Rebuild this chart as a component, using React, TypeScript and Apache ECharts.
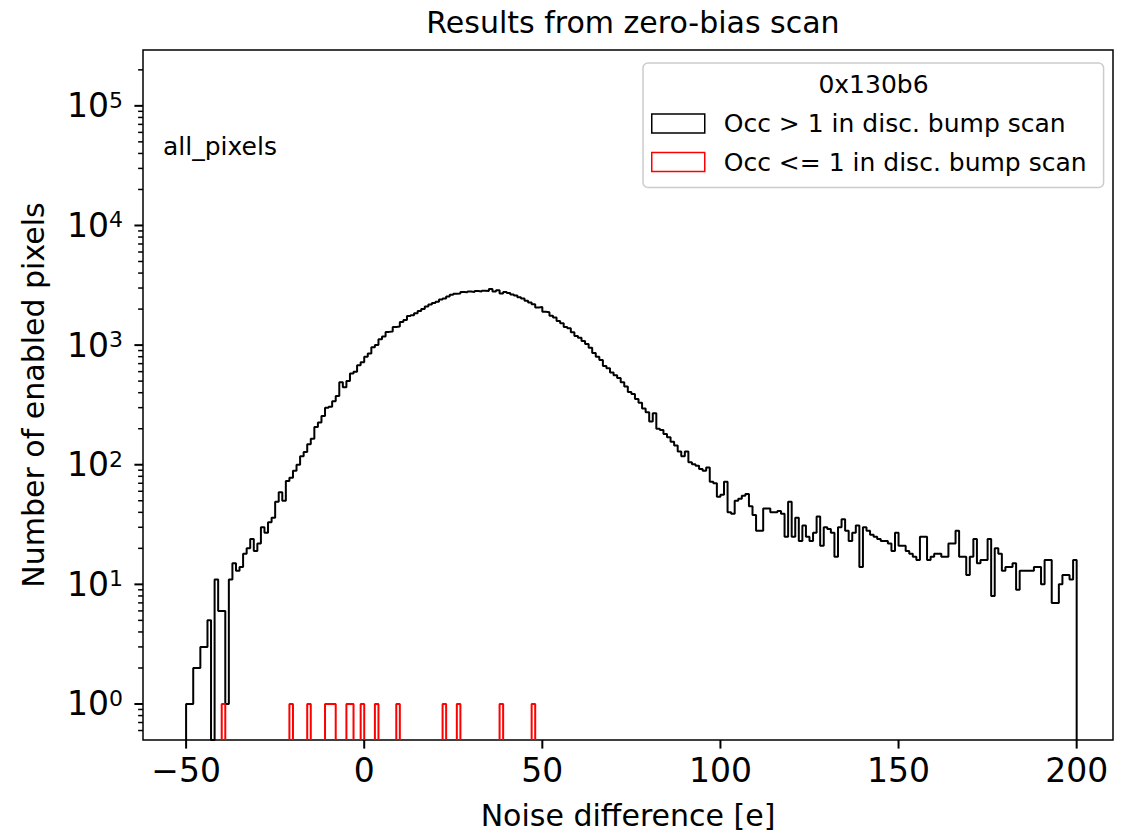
import React, { useEffect, useRef } from "react";
import * as echarts from "echarts";

// ---------- data ----------
const binStart = -50;
const binWidth = 1;
// counts per bin, bins [-50,-49), [-49,-48), ... [199,200)
const occGt1Counts = [
  1, 1, 2, 2, 3, 3, 5, 0, 11, 6,
  6, 1, 11, 15, 13, 14, 18, 20, 24, 19,
  22, 30, 27, 33, 36, 49, 59, 50, 73, 78,
  89, 100, 118, 128, 148, 165, 207, 225, 255, 300,
  305, 340, 375, 490, 445, 500, 580, 600, 680, 720,
  800, 850, 960, 1000, 1120, 1180, 1290, 1300, 1420, 1430,
  1560, 1620, 1750, 1780, 1850, 1930, 2000, 2100, 2180, 2250,
  2300, 2410, 2450, 2550, 2640, 2690, 2700, 2780, 2760, 2800,
  2780, 2830, 2800, 2850, 2830, 2940, 2800, 2880, 2700, 2780,
  2730, 2650, 2600, 2510, 2450, 2350, 2270, 2200, 2060, 2080,
  1900, 1880, 1760, 1700, 1590, 1520, 1420, 1380, 1280, 1190,
  1150, 1080, 1020, 950, 860, 800, 750, 670, 640, 590,
  560, 530, 490, 450, 405, 390, 355, 330, 295, 275,
  230, 270, 200, 195, 181, 170, 156, 145, 129, 118,
  129, 105, 101, 98, 92, 89, 95, 72, 70, 54,
  56, 72, 40, 39, 50, 52, 55, 57, 45, 38,
  28, 28, 43, 43, 40, 40, 41, 39, 25, 49,
  25, 36, 23, 31, 25, 23, 27, 37, 21, 30,
  29, 27, 17, 30, 35, 28, 23, 27, 31, 14,
  30, 28, 26, 25, 24, 23, 23, 22, 19, 27,
  21, 21, 19, 18, 17, 16, 25, 25, 16, 17,
  18, 18, 17, 17, 22, 22, 28, 17, 17, 12,
  17, 24, 15, 16, 16, 24, 8, 20, 18, 13,
  14, 14, 15, 9, 13, 13, 13, 13, 14, 14,
  10, 16, 16, 7, 7, 10, 12, 12, 11, 16,
];
// left edges of bins holding one pixel with Occ <= 1
const occLe1BinLefts = [-40, -21, -16, -11, -10, -9, -5, -4, -1, 3, 9, 22, 26, 38, 47];

const xTicks = [-50, 0, 50, 100, 150, 200];
const yTicks = [1, 10, 100, 1000, 10000, 100000];
const yMinorTicks = [
  0.6, 0.7, 0.8, 0.9,
  2, 3, 4, 5, 6, 7, 8, 9,
  20, 30, 40, 50, 60, 70, 80, 90,
  200, 300, 400, 500, 600, 700, 800, 900,
  2000, 3000, 4000, 5000, 6000, 7000, 8000, 9000,
  20000, 30000, 40000, 50000, 60000, 70000, 80000, 90000,
  200000,
];

const seriesNames = ["Occ > 1 in disc. bump scan", "Occ <= 1 in disc. bump scan"];
const legendTitle = "0x130b6";
const chartTitle = "Results from zero-bias scan";
const xName = "Noise difference [e]";
const yName = "Number of enabled pixels";
const annotation = "all_pixels";

const xMin = -62.1;
const xMax = 210.2;
const yMin = 0.5;
const yMax = 2.93e5;

const FONT = "DejaVu Sans";

const MAJOR_LEN = 8.6;
const MINOR_LEN = 4.9;

// step outline of runs of non-empty bins; empty bins fall to the axis bottom
function stepRuns(counts: number[], joinRuns: boolean) {
  const pts: any[] = [];
  const n = counts.length;
  let k = 0;
  while (k < n) {
    if (counts[k] <= 0 && !joinRuns) {
      k++;
      continue;
    }
    let end = k;
    if (joinRuns) end = n - 1;
    else while (end + 1 < n && counts[end + 1] > 0) end++;
    pts.push([binStart + k * binWidth, yMin]);
    for (let j = k; j <= end; j++) {
      pts.push([binStart + j * binWidth, counts[j] > 0 ? counts[j] : yMin]);
    }
    pts.push([binStart + (end + 1) * binWidth, counts[end] > 0 ? counts[end] : yMin]);
    pts.push([binStart + (end + 1) * binWidth, yMin]);
    pts.push(null);
    k = end + 1;
  }
  return pts;
}

export default function App() {
  const ref = useRef<HTMLDivElement>(null);

  useEffect(() => {
    if (!ref.current) return;
    const chart = echarts.init(ref.current, undefined, { renderer: "svg" });

    const n = occGt1Counts.length;
    const blackPts = stepRuns(occGt1Counts, true);

    const redCounts = new Array(n).fill(0);
    occLe1BinLefts.forEach((l) => {
      const k = Math.round((l - binStart) / binWidth);
      if (k >= 0 && k < n) redCounts[k] += 1;
    });
    const redPts = stepRuns(redCounts, false);

    const axisLine = { show: false, onZero: false };

    const baseGraphics: any[] = [
      {
        type: "text",
        z: 100,
        x: 873.5,
        y: 84,
        style: {
          text: legendTitle,
          fontFamily: FONT,
          fontSize: 25,
          fill: "#000",
          align: "center",
          verticalAlign: "middle",
        },
      },
      {
        type: "text",
        z: 100,
        x: 163,
        y: 146,
        style: {
          text: annotation,
          fontFamily: FONT,
          fontSize: 25,
          fill: "#000",
          verticalAlign: "middle",
        },
      },
    ];

    const option: any = {
      animation: false,
      backgroundColor: "#fff",
      title: {
        text: chartTitle,
        left: 628,
        top: 2,
        textAlign: "center",
        textStyle: { fontFamily: FONT, fontSize: 30, fontWeight: "normal", color: "#000" },
      },
      grid: {
        left: 143,
        right: 21,
        top: 50,
        bottom: 92,
        show: true,
        borderColor: "#000",
        borderWidth: 1.5,
        backgroundColor: "transparent",
      },
      legend: {
        orient: "vertical",
        left: 643,
        top: 63,
        padding: [48, 17, 13, 8],
        itemGap: 13.5,
        itemWidth: 53,
        itemHeight: 19,
        selectedMode: false,
        backgroundColor: "#fff",
        borderColor: "#cccccc",
        borderWidth: 1.5,
        borderRadius: 5,
        textStyle: { fontFamily: FONT, fontSize: 25, color: "#000", padding: [0, 0, 0, 14] },
        data: [
          {
            name: seriesNames[0],
            icon: "rect",
            itemStyle: { color: "rgba(0,0,0,0)", borderColor: "#000", borderWidth: 1.5 },
          },
          {
            name: seriesNames[1],
            icon: "rect",
            itemStyle: { color: "rgba(0,0,0,0)", borderColor: "#ff0000", borderWidth: 1.5 },
          },
        ],
      },
      graphic: baseGraphics,
      xAxis: {
        type: "value",
        min: xMin,
        max: xMax,
        splitLine: { show: false },
        axisLine,
        axisTick: { show: false },
        axisLabel: {
          customValues: xTicks,
          margin: 14,
          fontFamily: FONT,
          fontSize: 33,
          color: "#000",
          formatter: (v: number) => (v < 0 ? "\u2212" + Math.abs(v) : String(v)),
        },
        name: xName,
        nameLocation: "middle",
        nameGap: 60,
        nameTextStyle: { fontFamily: FONT, fontSize: 30, color: "#000" },
      },
      yAxis: {
        type: "log",
        logBase: 10,
        min: yMin,
        max: yMax,
        position: "left",
        splitLine: { show: false },
        minorTick: { show: false },
        axisLine,
        axisTick: { show: false },
        axisLabel: {
          customValues: yTicks,
          margin: 20,
          color: "#000",
          formatter: (v: number) => "{b|10}{s|" + Math.round(Math.log10(v)) + "}",
          rich: {
            b: { fontFamily: FONT, fontSize: 33, color: "#000", lineHeight: 33 },
            s: { fontFamily: FONT, fontSize: 22, color: "#000", lineHeight: 20, verticalAlign: "top" },
          },
        },
        name: yName,
        nameLocation: "middle",
        nameRotate: 90,
        nameGap: 95,
        nameTextStyle: { fontFamily: FONT, fontSize: 30, color: "#000" },
      },
      series: [
        {
          name: seriesNames[0],
          type: "line",
          step: "end",
          data: blackPts,
          symbol: "none",
          clip: false,
          connectNulls: false,
          color: "#000",
          lineStyle: { color: "#000", width: 2 },
          z: 3,
        },
        {
          name: seriesNames[1],
          type: "line",
          step: "end",
          data: redPts,
          symbol: "none",
          clip: false,
          connectNulls: false,
          color: "#ff0000",
          lineStyle: { color: "#ff0000", width: 2 },
          z: 3,
        },
      ],
    };

    chart.setOption(option);

    // tick marks placed through the chart's own axis scales
    const finder = { xAxisIndex: 0, yAxisIndex: 0 };
    const tickLines: any[] = [];
    const addY = (v: number, len: number, w: number) => {
      const p = chart.convertToPixel(finder, [xMin, v]) as number[];
      tickLines.push({
        type: "line",
        z: 50,
        shape: { x1: p[0] - len, y1: p[1], x2: p[0], y2: p[1] },
        style: { stroke: "#000", lineWidth: w },
      });
    };
    yTicks.forEach((v) => addY(v, MAJOR_LEN, 2));
    yMinorTicks.forEach((v) => addY(v, MINOR_LEN, 1.5));
    xTicks.forEach((v) => {
      const p = chart.convertToPixel(finder, [v, yMin]) as number[];
      tickLines.push({
        type: "line",
        z: 50,
        shape: { x1: p[0], y1: p[1], x2: p[0], y2: p[1] + MAJOR_LEN },
        style: { stroke: "#000", lineWidth: 2 },
      });
    });
    chart.setOption({ graphic: baseGraphics.concat(tickLines) }, { replaceMerge: ["graphic"] });

    return () => chart.dispose();
  }, []);

  return (
    <div
      ref={ref}
      style={{ position: "fixed", left: 0, top: 0, width: 1134, height: 835, background: "#fff" }}
    />
  );
}
